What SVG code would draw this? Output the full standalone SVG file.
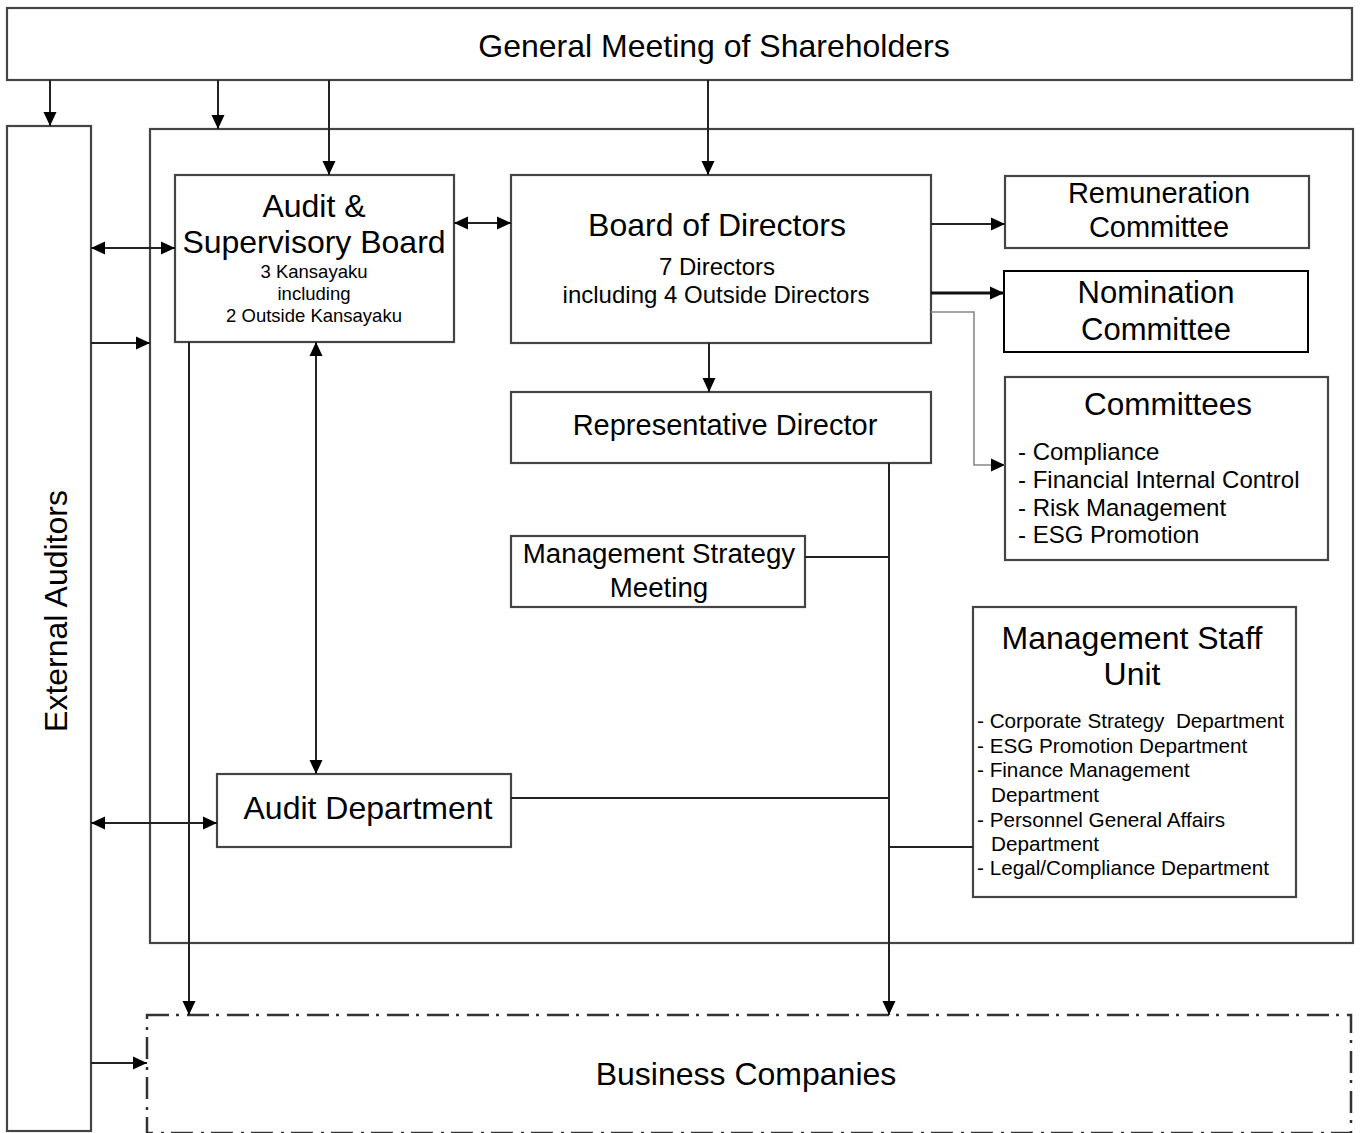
<svg xmlns="http://www.w3.org/2000/svg" width="1362" height="1133" viewBox="0 0 1362 1133">
<style>
  .box{fill:#fff;stroke:#444;stroke-width:2.2}
  .boxk{fill:#fff;stroke:#000;stroke-width:2}
  .dd{fill:none;stroke:#333;stroke-width:2.5;stroke-dasharray:22 7 3 8}
  .ln{fill:none;stroke:#222;stroke-width:2}
  .lnb{fill:none;stroke:#111;stroke-width:2.8}
  .lng{fill:none;stroke:#888;stroke-width:1.6}
  text{font-family:"Liberation Sans",Arial,sans-serif;fill:#000}
  .big{font-size:32px;text-anchor:middle}
  .mid{font-size:29px;text-anchor:middle}
  .s18{font-size:18.5px;text-anchor:middle}
  .s24{font-size:24px}
  .s24c{font-size:24px;text-anchor:middle}
  .s21{font-size:20.7px}
</style>
<defs>
  <marker id="ah" viewBox="0 0 14 14" refX="14" refY="7" markerWidth="14" markerHeight="14" markerUnits="userSpaceOnUse" orient="auto-start-reverse">
    <path d="M0,0.5 L14,7 L0,13.5 z" fill="#000"/>
  </marker>
</defs>
<rect width="1362" height="1133" fill="#fff"/>

<g id="general-meeting">
  <rect class="box" x="7" y="8" width="1345" height="72"/>
  <text class="big" x="714" y="57">General Meeting of Shareholders</text>
</g>

<g id="external-auditors">
  <rect class="box" x="7" y="126" width="84" height="1005"/>
  <text class="big" transform="translate(67,611) rotate(-90)" x="0" y="0">External Auditors</text>
</g>

<g id="main-frame">
  <rect class="box" x="150" y="129" width="1203" height="814"/>
</g>

<g id="business-companies">
  <rect class="dd" x="147" y="1015" width="1204" height="118"/>
  <text class="big" x="746" y="1085">Business Companies</text>
</g>

<g id="audit-supervisory-board">
  <rect class="box" x="175" y="175" width="279" height="167"/>
  <text class="big" x="314" y="217">Audit &amp;</text>
  <text class="big" x="314" y="253">Supervisory Board</text>
  <text class="s18" x="314" y="278">3 Kansayaku</text>
  <text class="s18" x="314" y="300">including</text>
  <text class="s18" x="314" y="322">2 Outside Kansayaku</text>
</g>

<g id="board-of-directors">
  <rect class="box" x="511" y="175" width="420" height="168"/>
  <text class="big" x="717" y="236">Board of Directors</text>
  <text class="s24c" x="717" y="275">7 Directors</text>
  <text class="s24c" x="716" y="303">including 4 Outside Directors</text>
</g>

<g id="remuneration-committee">
  <rect class="box" x="1005" y="176" width="304" height="72"/>
  <text class="mid" x="1159" y="203">Remuneration</text>
  <text class="mid" x="1159" y="237">Committee</text>
</g>

<g id="nomination-committee">
  <rect class="boxk" x="1004" y="271" width="304" height="81"/>
  <text class="big" x="1156" y="303" style="font-size:31px">Nomination</text>
  <text class="big" x="1156" y="340" style="font-size:31px">Committee</text>
</g>

<g id="committees">
  <rect class="box" x="1005" y="377" width="323" height="183"/>
  <text class="big" x="1168" y="415" style="font-size:31.5px">Committees</text>
  <text class="s24" x="1018" y="460">- Compliance</text>
  <text class="s24" x="1018" y="488">- Financial Internal Control</text>
  <text class="s24" x="1018" y="516">- Risk Management</text>
  <text class="s24" x="1018" y="543">- ESG Promotion</text>
</g>

<g id="representative-director">
  <rect class="box" x="511" y="392" width="420" height="71"/>
  <text class="mid" x="725" y="435">Representative Director</text>
</g>

<g id="management-strategy-meeting">
  <rect class="box" x="511" y="536" width="294" height="71"/>
  <text class="mid" x="659" y="563" style="font-size:27.7px">Management Strategy</text>
  <text class="mid" x="659" y="597" style="font-size:27.7px">Meeting</text>
</g>

<g id="audit-department">
  <rect class="box" x="217" y="774" width="294" height="73"/>
  <text class="big" x="368" y="819">Audit Department</text>
</g>

<g id="management-staff-unit">
  <rect class="box" x="973" y="607" width="323" height="290"/>
  <text class="big" x="1132" y="649">Management Staff</text>
  <text class="big" x="1132" y="685">Unit</text>
  <text class="s21" x="977" y="728" xml:space="preserve" style="white-space:pre">- Corporate Strategy  Department</text>
  <text class="s21" x="977" y="753">- ESG Promotion Department</text>
  <text class="s21" x="977" y="777">- Finance Management</text>
  <text class="s21" x="991" y="802">Department</text>
  <text class="s21" x="977" y="827">- Personnel General Affairs</text>
  <text class="s21" x="991" y="851">Department</text>
  <text class="s21" x="977" y="875">- Legal/Compliance Department</text>
</g>

<g id="connectors">
  <line class="ln" x1="50" y1="80" x2="50" y2="126" marker-end="url(#ah)"/>
  <line class="ln" x1="218" y1="80" x2="218" y2="129" marker-end="url(#ah)"/>
  <line class="ln" x1="329" y1="80" x2="329" y2="175" marker-end="url(#ah)"/>
  <line class="ln" x1="708" y1="80" x2="708" y2="175" marker-end="url(#ah)"/>
  <line class="ln" x1="91" y1="248" x2="175" y2="248" marker-start="url(#ah)" marker-end="url(#ah)"/>
  <line class="ln" x1="91" y1="343" x2="150" y2="343" marker-end="url(#ah)"/>
  <line class="ln" x1="91" y1="823" x2="217" y2="823" marker-start="url(#ah)" marker-end="url(#ah)"/>
  <line class="ln" x1="91" y1="1063" x2="147" y2="1063" marker-end="url(#ah)"/>
  <line class="ln" x1="454" y1="223" x2="511" y2="223" marker-start="url(#ah)" marker-end="url(#ah)"/>
  <line class="ln" x1="316" y1="342" x2="316" y2="774" marker-start="url(#ah)" marker-end="url(#ah)"/>
  <line class="ln" x1="189" y1="342" x2="189" y2="1015" marker-end="url(#ah)"/>
  <line class="ln" x1="931" y1="224" x2="1005" y2="224" marker-end="url(#ah)"/>
  <line class="lnb" x1="931" y1="293" x2="1004" y2="293" marker-end="url(#ah)"/>
  <polyline class="lng" points="931,312 974,312 974,465 1005,465" marker-end="url(#ah)"/>
  <line class="ln" x1="709" y1="343" x2="709" y2="392" marker-end="url(#ah)"/>
  <line class="ln" x1="889" y1="463" x2="889" y2="1015" marker-end="url(#ah)"/>
  <line class="ln" x1="805" y1="557" x2="889" y2="557"/>
  <line class="ln" x1="511" y1="798" x2="889" y2="798"/>
  <line class="ln" x1="889" y1="847" x2="973" y2="847"/>
</g>
</svg>
